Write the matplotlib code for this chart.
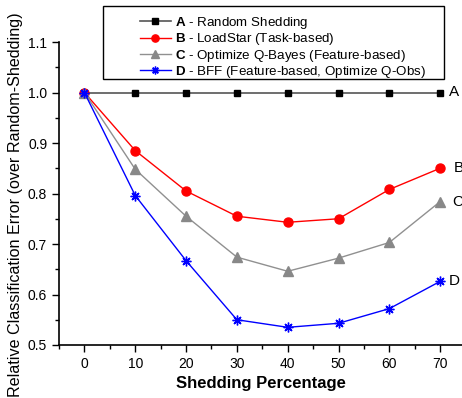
import matplotlib
matplotlib.use("Agg")
import matplotlib.pyplot as plt
from matplotlib.patches import Rectangle

plt.rcParams['font.family'] = ['Liberation Sans', 'DejaVu Sans']
plt.rcParams['mathtext.fontset'] = 'custom'
plt.rcParams['mathtext.bf'] = 'Liberation Sans:bold'
plt.rcParams['mathtext.rm'] = 'Liberation Sans'

x = [0, 10, 20, 30, 40, 50, 60, 70]
a_vals = [1.0, 1.0, 1.0, 1.0, 1.0, 1.0, 1.0, 1.0]
b_vals = [1.0, 0.885, 0.805, 0.755, 0.743, 0.750, 0.808, 0.850]
c_vals = [1.0, 0.848, 0.755, 0.674, 0.646, 0.672, 0.703, 0.784]
d_vals = [1.0, 0.796, 0.667, 0.550, 0.535, 0.543, 0.572, 0.626]
labels = [r"$\bf{A}$ - Random Shedding",
          r"$\bf{B}$ - LoadStar (Task-based)",
          r"$\bf{C}$ - Optimize Q-Bayes (Feature-based)",
          r"$\bf{D}$ - BFF (Feature-based, Optimize Q-Obs)"]
end_labels = ["A", "B", "C", "D"]

W, H = 462, 398
fig = plt.figure(figsize=(W/100, H/100), dpi=100)
ax = fig.add_axes([59/W, (H-345)/H, (W-59)/W, (345-42)/H])

la, = ax.plot(x, a_vals, color='#555555', lw=1.2, marker='s', ms=5,
              mfc='black', mec='black', label=labels[0])
lb, = ax.plot(x, b_vals, color='red', lw=1.0, marker='o', ms=6.5,
              mfc='red', mec='red', label=labels[1])
lc, = ax.plot(x, c_vals, color='#909090', lw=1.0, marker='^', ms=7,
              mfc='#888888', mec='#888888', label=labels[2])
ld, = ax.plot(x, d_vals, color='blue', lw=1.0, marker=(8, 2, 0), ms=7,
              mec='blue', mew=1.0, label=labels[3])

for vals, lab, dx in zip([a_vals, b_vals, c_vals, d_vals], end_labels, [1.8, 2.6, 2.4, 1.6]):
    ax.text(x[-1] + dx, vals[-1], lab, fontsize=11, va='center', ha='left', clip_on=False)

ax.set_xlim(-5, 74.3)
ax.set_ylim(0.5, 1.1)
ax.set_xticks(x)
ax.set_xticks(range(-5, 75, 5), minor=True)
ax.set_yticks([0.5, 0.6, 0.7, 0.8, 0.9, 1.0, 1.1])
ax.set_yticks([0.55, 0.65, 0.75, 0.85, 0.95, 1.05], minor=True)
ax.tick_params(which='major', direction='out', length=5, width=1, labelsize=10)
ax.tick_params(which='minor', direction='out', length=3, width=1)
ax.spines['top'].set_visible(False)
ax.spines['right'].set_visible(False)
for s in ['left', 'bottom']:
    ax.spines[s].set_linewidth(1.2)
ax.set_xlabel("Shedding Percentage", fontsize=12, fontweight='bold', labelpad=4)
ax.set_ylabel("Relative Classification Error (over Random-Shedding)", fontsize=11.6)
ax.yaxis.set_label_coords(-36/(W-59), 0.462)
ax.patch.set_visible(False)

fig.add_artist(Rectangle((103/W, 1-79/H), (444-103)/W, (79-6)/H,
                         transform=fig.transFigure, fill=True, facecolor='white',
                         edgecolor='black', lw=1.0, zorder=5))
leg = fig.legend(handles=[la, lb, lc, ld], loc='upper left',
                 bbox_to_anchor=(140/W, 1-15/H), bbox_transform=fig.transFigure,
                 frameon=False, borderpad=0, borderaxespad=0, fontsize=9.6,
                 handlelength=2.3, handletextpad=0.3, labelspacing=0.02,
                 markerscale=0.8)
leg.set_zorder(6)

fig.savefig("out.png", dpi=100)
